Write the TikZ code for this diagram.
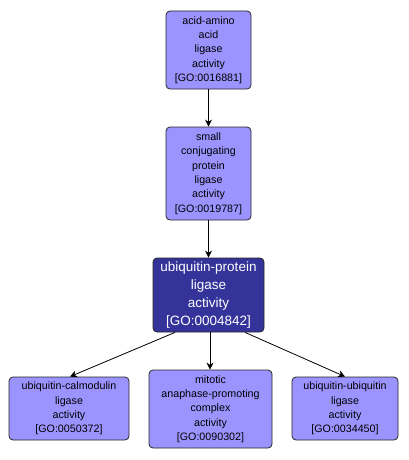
\documentclass[tikz,border=0pt]{standalone}
\usepackage{fontspec}
\setmainfont{Liberation Sans}
\usetikzlibrary{arrows.meta}
\definecolor{lightnode}{HTML}{9B94FF}
\definecolor{darknode}{HTML}{33339A}
\tikzset{
  goterm/.style={draw=black!85, line width=0.8pt, rounded corners=4pt, fill=lightnode, align=center, inner sep=0pt, font=\fontsize{10.7}{14.3}\selectfont},
  gomain/.style={goterm, fill=darknode, text=white, font=\fontsize{13.5}{18}\selectfont},
  conn/.style={-{Stealth[length=7pt,width=7pt]}, line width=0.8pt}
}
\begin{document}
\begin{tikzpicture}[x=1pt,y=-1pt]
\useasboundingbox (0,0) rectangle (409,460);
\node[goterm, minimum width=85pt, minimum height=78pt] (a) at (208.5,50) {acid-amino\\acid\\ligase\\activity\\{[GO:0016881]}};
\node[goterm, minimum width=85pt, minimum height=93pt] (b) at (208.5,173.5) {small\\conjugating\\protein\\ligase\\activity\\{[GO:0019787]}};
\node[gomain, minimum width=111pt, minimum height=74pt] (c) at (208.5,295) {ubiquitin-protein\\ligase\\activity\\{[GO:0004842]}};
\node[goterm, minimum width=120pt, minimum height=63pt] (d) at (69,408.5) {ubiquitin-calmodulin\\ligase\\activity\\{[GO:0050372]}};
\node[goterm, minimum width=123pt, minimum height=78pt] (e) at (210.5,409) {mitotic\\anaphase-promoting\\complex\\activity\\{[GO:0090302]}};
\node[goterm, minimum width=106pt, minimum height=63pt] (f) at (345,408.5) {ubiquitin-ubiquitin\\ligase\\activity\\{[GO:0034450]}};
\draw[conn] (a) -- (b);
\draw[conn] (b) -- (c);
\draw[conn] (c.south -| 175,0) -- (d.north -| 70,0);
\draw[conn] (c.south -| 210,0) -- (e.north -| 210,0);
\draw[conn] (c.south -| 245,0) -- (f.north -| 345,0);
\end{tikzpicture}
\end{document}
